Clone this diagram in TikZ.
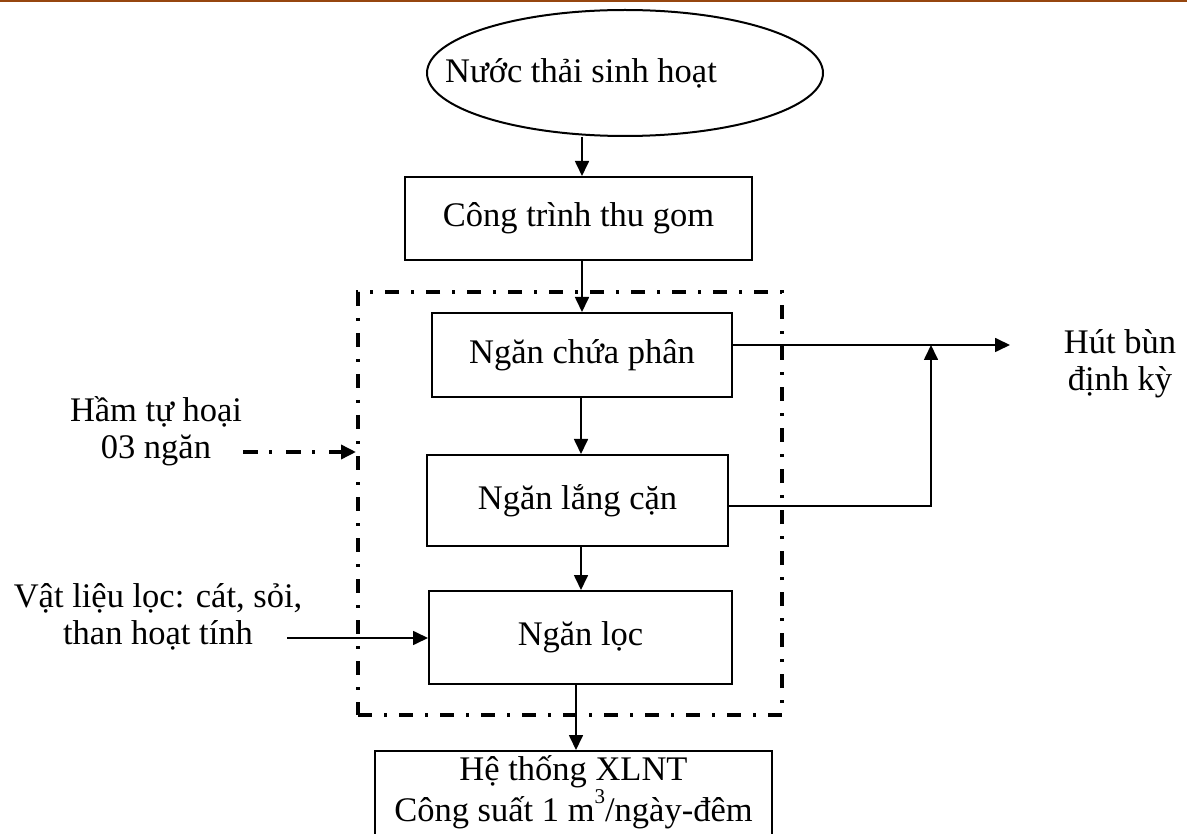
\documentclass[tikz,border=0pt]{standalone}
\usepackage{fontspec}
\setmainfont{Liberation Serif}
\usetikzlibrary{arrows.meta,shapes.geometric}
\definecolor{topbar}{RGB}{150,70,15}
\begin{document}
\begin{tikzpicture}[x=1pt,y=-1pt,
  every node/.style={font=\fontsize{34.5}{37}\selectfont, inner sep=0pt},
  box/.style={draw, line width=2pt},
  tip/.style={-{Triangle[length=15pt,width=14pt]}},
  arr/.style={line width=1.7pt, tip},
  dashdotbox/.style={line width=4pt, dash pattern=on 14pt off 12pt on 3pt off 12pt},
  dashdotarr/.style={line width=3.5pt, dash pattern=on 15pt off 11pt on 3pt off 14pt}
]
\clip (0,0) rectangle (1187,834);
\useasboundingbox (0,0) rectangle (1187,834);
\fill[topbar] (0,0) rectangle (1187,2.5);

% source ellipse
\node[draw, ellipse, line width=2pt, minimum width=396pt, minimum height=126pt] (src) at (625,73) {};
\node (srct) at (581,73) {Nước thải sinh hoạt};

% boxes
\node[box, minimum width=347pt, minimum height=83pt] (tg) at (578.5,218.5) {Công trình thu gom};
\node[draw, dashdotbox, minimum width=424pt, minimum height=423pt] (tank) at (570,503.5) {};
\node[box, minimum width=300pt, minimum height=84pt] (cp) at (582,355) {Ngăn chứa phân};
\node[box, minimum width=301pt, minimum height=91pt] (lc) at (577.5,500.5) {Ngăn lắng cặn};
\node[box, minimum width=303pt, minimum height=93pt] (lo) at (580.5,637.5) {Ngăn lọc};
\node[box, anchor=north, minimum width=397pt, minimum height=95pt] (xl) at (573.5,750) {};
\node[align=center] (xlt) at (573.5,792) {Hệ thống XLNT\\[1pt]Công suất 1 m\raisebox{1.1ex}{\fontsize{21}{21}\selectfont 3}/ngày-đêm};

% main flow
\draw[arr] (src.south -| cp.north) -- (cp.north |- tg.north);
\draw[arr] (cp.north |- tg.south) -- (cp.north);
\draw[arr] ([xshift=-1pt]cp.south) -- ([xshift=-1pt]cp.south |- lc.north);
\draw[arr] ([xshift=-1pt]cp.south |- lc.south) -- ([xshift=-1pt]cp.south |- lo.north);
\draw[arr] ([xshift=2.5pt]xl.north |- lo.south) -- ([xshift=2.5pt]xl.north);

% sludge removal
\coordinate (hb) at (1010,345);
\coordinate (jn) at (931,345);
\draw[arr] ([yshift=10pt]cp.east) -- (hb);
\draw[arr] ([yshift=-5.5pt]lc.east) -| (jn);
\node[align=center] (hbt) at (1120,364) {Hút bùn\\định kỳ};

% left labels
\node[align=center] (ham) at (156,431) {Hầm tự hoại\\03 ngăn};
\coordinate (hamS) at (243,452);
\draw[dashdotarr, tip] (hamS) -- (hamS -| tank.west);

\node[align=center] (vl) at (158,617) {Vật liệu lọc: cát, sỏi,\\than hoạt tính};
\coordinate (vlS) at (287,638);
\draw[arr] (vlS) -- (vlS -| lo.west);
\end{tikzpicture}
\end{document}
